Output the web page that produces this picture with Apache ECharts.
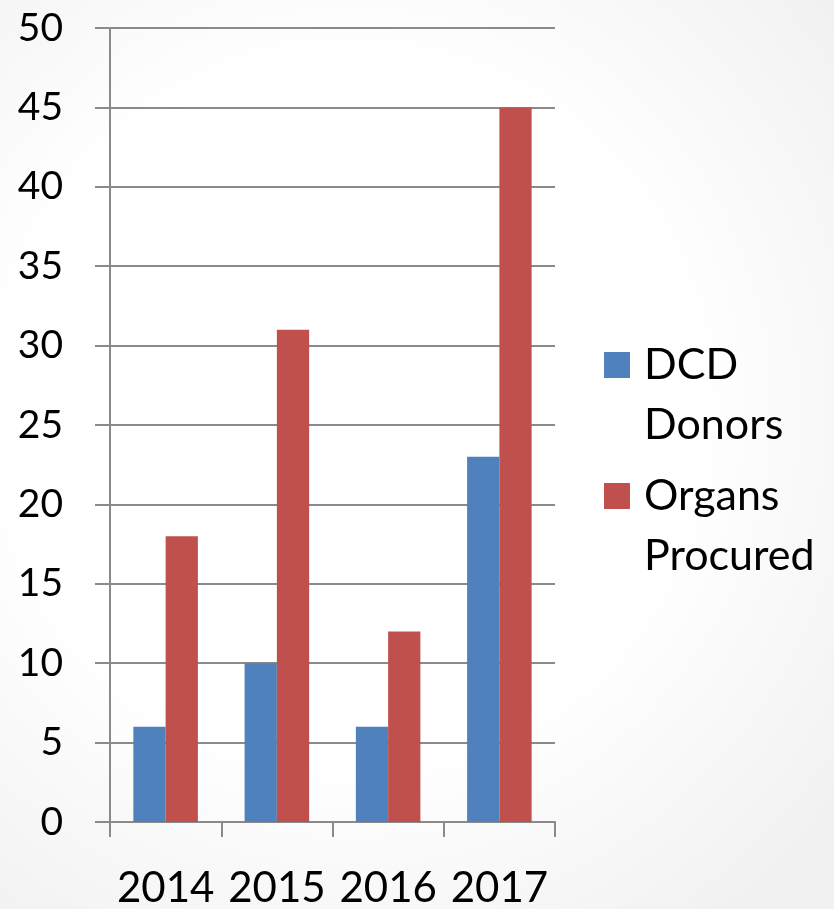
<!DOCTYPE html>
<html>
<head>
<meta charset="utf-8">
<script src="https://cdn.jsdelivr.net/npm/echarts@6/dist/echarts.min.js"></script>
<style>
  html, body { margin: 0; padding: 0; overflow: hidden; }
  body {
    width: 834px; height: 909px;
    background: radial-gradient(ellipse 75% 70% at 42% 45%, #ffffff 55%, #f1f1f1 100%);
  }
  #chart { width: 834px; height: 909px; }
</style>
</head>
<body>
<div id="chart"></div>
<script>
// Yearly DCD program figures
const years = ['2014', '2015', '2016', '2017'];
const dcdDonors = [6, 10, 6, 23];
const organsProcured = [18, 31, 12, 45];
const yTicks = { min: 0, max: 50, interval: 5 };

const FONT = 'Lato, "Open Sans", sans-serif';
const AXIS_GRAY = '#8a8a8a';

// Legend swatch: a 26px square sitting at the top of a 26x86 box, so it
// lines up with the first line of the two-line legend text.
const SWATCH_ICON = 'path://M0,0L26,0L26,26L0,26Z M0,86L26,86';

const chart = echarts.init(document.getElementById('chart'), null, { renderer: 'canvas', width: 834, height: 909 });

chart.setOption({
  backgroundColor: 'transparent',
  animation: false,
  grid: { left: 110, width: 445, top: 28, height: 800, containLabel: false },
  legend: {
    orient: 'vertical',
    left: 604,
    top: 335,
    padding: 0,
    itemWidth: 26,
    itemHeight: 86,
    itemGap: 11,
    icon: SWATCH_ICON,
    selectedMode: false,
    textStyle: {
      fontFamily: FONT,
      fontSize: 43,
      color: '#000',
      lineHeight: 60,
      padding: [0, 0, 0, 9]
    },
    formatter: function (name) {
      return name === 'DCD Donors' ? 'DCD\nDonors' : 'Organs\nProcured';
    },
    data: ['DCD Donors', 'Organs Procured']
  },
  xAxis: {
    type: 'category',
    data: years,
    axisLine: { lineStyle: { color: AXIS_GRAY, width: 2 } },
    axisTick: { show: true, length: 15, lineStyle: { color: AXIS_GRAY, width: 2 } },
    axisLabel: { fontFamily: FONT, fontSize: 42, color: '#000', margin: 45, interval: 0, hideOverlap: false }
  },
  yAxis: {
    type: 'value',
    min: yTicks.min,
    max: yTicks.max,
    interval: yTicks.interval,
    axisLine: { show: true, lineStyle: { color: AXIS_GRAY, width: 2 } },
    axisTick: { show: true, length: 15, lineStyle: { color: AXIS_GRAY, width: 2 } },
    splitLine: { show: true, lineStyle: { color: AXIS_GRAY, width: 2 } },
    axisLabel: { fontFamily: FONT, fontSize: 39, color: '#000', margin: 47 }
  },
  series: [
    {
      name: 'DCD Donors',
      type: 'bar',
      data: dcdDonors,
      barGap: '0%',
      barCategoryGap: '42%',
      itemStyle: { color: '#4F81BD' }
    },
    {
      name: 'Organs Procured',
      type: 'bar',
      data: organsProcured,
      barGap: '0%',
      barCategoryGap: '42%',
      itemStyle: { color: '#C0504D' }
    }
  ]
});
</script>
</body>
</html>
